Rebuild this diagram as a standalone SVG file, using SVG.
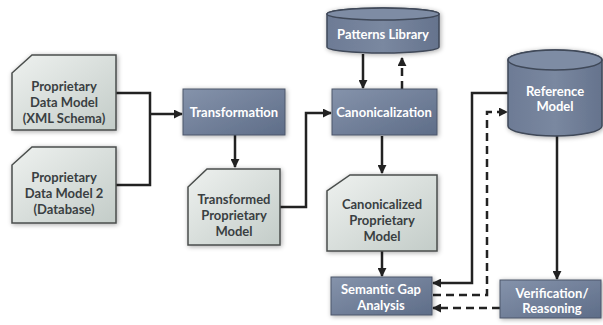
<svg xmlns="http://www.w3.org/2000/svg" width="603" height="325" viewBox="0 0 603 325">
<defs>
<linearGradient id="gb" x1="0" y1="0" x2="1" y2="1"><stop offset="0" stop-color="#8593ab"/><stop offset="1" stop-color="#5e6d88"/></linearGradient>
<linearGradient id="gd" x1="0" y1="0" x2="1" y2="1"><stop offset="0" stop-color="#eef1ef"/><stop offset="1" stop-color="#c3ccc8"/></linearGradient>
<linearGradient id="gc" x1="0" y1="0" x2="1" y2="0"><stop offset="0" stop-color="#6d7b95"/><stop offset="0.5" stop-color="#7a88a0"/><stop offset="1" stop-color="#65738d"/></linearGradient>
<filter id="sh" x="-20%" y="-20%" width="140%" height="140%"><feGaussianBlur in="SourceAlpha" stdDeviation="2.5"/><feOffset dx="1" dy="1"/><feComponentTransfer><feFuncA type="linear" slope="0.35"/></feComponentTransfer><feMerge><feMergeNode/><feMergeNode in="SourceGraphic"/></feMerge></filter>
<marker id="ah" viewBox="0 0 10 10" refX="9" refY="5" markerWidth="3.6" markerHeight="3.6" orient="auto"><path d="M0,0 L10,5 L0,10 z" fill="#222"/></marker>
</defs>
<style>
.doc{fill:url(#gd);stroke:#4a4e4c;stroke-width:1.5;filter:url(#sh)}
.proc{fill:url(#gb);stroke:#4c566a;stroke-width:1;filter:url(#sh)}
.cyl{fill:url(#gc);stroke:#3f4858;stroke-width:1.5}
.dt{font-family:Lato,"Liberation Sans",sans-serif;font-weight:bold;font-size:13px;fill:#3a3f42;text-anchor:middle}
.pt{font-family:Lato,"Liberation Sans",sans-serif;font-weight:bold;font-size:13px;fill:#ffffff;text-anchor:middle}
.ln{fill:none;stroke:#222;stroke-width:2.5}
.dl{fill:none;stroke:#222;stroke-width:2.5;stroke-dasharray:8,5}
</style>
<g id="connectors">
<path class="ln" d="M116,93 H150 V185 H116"/>
<path class="ln" d="M150,114 H182" marker-end="url(#ah)"/>
<path class="ln" d="M235,135 V167" marker-end="url(#ah)"/>
<path class="ln" d="M280,207 H306 V113 H331" marker-end="url(#ah)"/>
<path class="ln" d="M363,54 V88" marker-end="url(#ah)"/>
<path class="dl" d="M402,89 V58" marker-end="url(#ah)"/>
<path class="ln" d="M382,136 V173" marker-end="url(#ah)"/>
<path class="ln" d="M382,251 V276" marker-end="url(#ah)"/>
<path class="ln" d="M508,93 H472 V283 H433" marker-end="url(#ah)"/>
<path class="dl" d="M433,295 H487 V112 H507" marker-end="url(#ah)"/>
<path class="ln" d="M557,136 V279" marker-end="url(#ah)"/>
<path class="dl" d="M500,308 H433" marker-end="url(#ah)"/>
</g>
<g id="pdm1">
<path class="doc" d="M32,55 H116 V130 H12 V73 Z"/>
<text class="dt" x="64" y="91">Proprietary</text>
<text class="dt" x="64" y="107">Data Model</text>
<text class="dt" x="64" y="123">(XML Schema)</text>
</g>
<g id="pdm2">
<path class="doc" d="M32,147 H116 V223 H12 V165 Z"/>
<text class="dt" x="64" y="182">Proprietary</text>
<text class="dt" x="64" y="198">Data Model 2</text>
<text class="dt" x="64" y="214">(Database)</text>
</g>
<g id="transformation">
<rect class="proc" x="183" y="89" width="102" height="46"/>
<text class="pt" x="234" y="117">Transformation</text>
</g>
<g id="transformed">
<path class="doc" d="M207,169 H280 V245 H188 V187 Z"/>
<text class="dt" x="234" y="204">Transformed</text>
<text class="dt" x="234" y="220">Proprietary</text>
<text class="dt" x="234" y="236">Model</text>
</g>
<g id="patterns">
<g filter="url(#sh)">
<path class="cyl" d="M327,14 V47 A56,6 0 0 0 439,47 V14 A56,6 0 0 0 327,14 Z"/>
<ellipse cx="383" cy="14" rx="56" ry="6" fill="#7e8ca4" stroke="#3f4858" stroke-width="1.5"/>
</g>
<text class="pt" x="383" y="39">Patterns Library</text>
</g>
<g id="canonicalization">
<rect class="proc" x="332" y="89" width="105" height="46"/>
<text class="pt" x="384" y="117">Canonicalization</text>
</g>
<g id="canonicalized">
<path class="doc" d="M350,175 H437 V251 H327 V191 Z"/>
<text class="dt" x="382" y="209">Canonicalized</text>
<text class="dt" x="382" y="225">Proprietary</text>
<text class="dt" x="382" y="241">Model</text>
</g>
<g id="semantic">
<rect class="proc" x="331" y="277" width="101" height="38"/>
<text class="pt" x="381" y="294">Semantic Gap</text>
<text class="pt" x="381" y="310">Analysis</text>
</g>
<g id="reference">
<g filter="url(#sh)">
<path class="cyl" d="M508,60 V126 A47,10 0 0 0 602,126 V60 A47,10 0 0 0 508,60 Z"/>
<ellipse cx="555" cy="60" rx="47" ry="10" fill="#7e8ca4" stroke="#3f4858" stroke-width="1.5"/>
</g>
<text class="pt" x="555" y="96">Reference</text>
<text class="pt" x="555" y="111">Model</text>
</g>
<g id="verification">
<rect class="proc" x="500" y="280" width="101" height="38"/>
<text class="pt" x="552" y="298">Verification/</text>
<text class="pt" x="552" y="313">Reasoning</text>
</g>
</svg>
